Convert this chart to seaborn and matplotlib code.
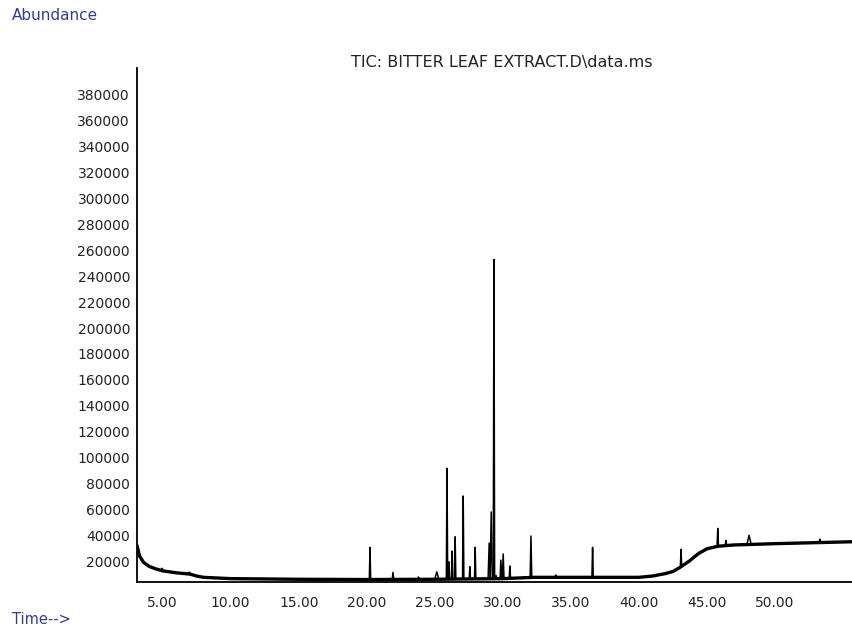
import numpy as np
import pandas as pd
import matplotlib
matplotlib.use("Agg")
import matplotlib.pyplot as plt
import seaborn as sns
from matplotlib.ticker import MultipleLocator, FixedLocator, FuncFormatter

# ---- data ----
# baseline knots (retention time in min, abundance)
base_time = [3.12, 3.3, 3.6, 4.0, 4.5, 5.0, 6.0, 7.0, 7.5, 8.0, 10.0, 15.0, 20.0,
             25.0, 30.0, 32.3, 33.0, 40.0, 41.0, 42.0, 42.5, 43.0, 43.7, 44.4,
             45.0, 45.8, 47.0, 50.0, 55.74]
base_abund = [32000, 24000, 19000, 16000, 14000, 12500, 11000, 10000, 8500, 7500,
              6500, 6000, 5800, 6000, 6500, 7500, 7500, 7500, 8500, 10500, 12000,
              15000, 20000, 26000, 29500, 31500, 32500, 33500, 35000]

# peaks: apex time, apex abundance, abundance at peak foot, half width (min)
peak_time = [4.95, 6.95, 20.24, 21.93, 23.8, 25.15, 25.9, 26.05, 26.28, 26.5,
             27.09, 27.58, 27.97, 29.0, 29.15, 29.35, 29.5, 29.86, 30.03, 30.52,
             32.07, 33.9, 36.6, 43.1, 45.8, 46.4, 48.1, 53.3]
peak_top = [14500, 11500, 30700, 11300, 7800, 11800, 91700, 19500, 27800, 38800,
            70300, 15700, 30650, 34000, 58000, 253000, 9000, 20800, 25500, 16200,
            39400, 9300, 30650, 29100, 45300, 36000, 40000, 37000]
peak_foot = [12500, 10000, 5800, 5800, 5900, 6000, 6000, 6000, 6000, 6000,
             6100, 6100, 6200, 6300, 6300, 6300, 6400, 6400, 6500, 6500,
             7000, 7500, 7500, 15700, 31700, 32300, 33200, 34500]
peak_hw = [0.12, 0.15, 0.05, 0.06, 0.1, 0.15, 0.05, 0.05, 0.05, 0.05,
           0.05, 0.05, 0.05, 0.08, 0.08, 0.05, 0.06, 0.06, 0.06, 0.05,
           0.06, 0.1, 0.05, 0.05, 0.05, 0.05, 0.15, 0.05]

y_ticks = list(range(20000, 400000, 20000))
x_ticks = [5, 10, 15, 20, 25, 30, 35, 40, 45, 50, 55]
x_labels = ["5.00", "10.00", "15.00", "20.00", "25.00", "30.00", "35.00",
            "40.00", "45.00", "50.00", ""]

title = "TIC: BITTER LEAF EXTRACT.D\\data.ms"

# ---- build tables ----
base_df = pd.DataFrame({"time": base_time, "abund": base_abund})
rows = []
for i, (t, top, foot, hw) in enumerate(zip(peak_time, peak_top, peak_foot, peak_hw)):
    rows.append({"pk": i, "time": t - hw, "abund": foot})
    rows.append({"pk": i, "time": t, "abund": top})
    rows.append({"pk": i, "time": t + hw, "abund": foot})
peak_df = pd.DataFrame(rows)

sns.set_style("white")
plt.rcParams["font.family"] = ["DejaVu Sans"]

W, H = 853, 629
fig = plt.figure(figsize=(W / 100, H / 100), dpi=100)
ax = fig.add_axes([137 / W, 1 - 582 / H, 1 - 137 / W, (582 - 68) / H])

sns.lineplot(data=base_df, x="time", y="abund", ax=ax, color="black",
             linewidth=2.4, estimator=None, sort=False)
sns.lineplot(data=peak_df, x="time", y="abund", units="pk", ax=ax,
             color="black", linewidth=1.1, estimator=None, sort=False)

ax.set_xlim(3.115, 55.74)
ax.set_ylim(3900, 400800)
ax.set_xlabel("")
ax.set_ylabel("")

for s in ["top", "right"]:
    ax.spines[s].set_visible(False)
for s in ["left", "bottom"]:
    ax.spines[s].set_color("black")
    ax.spines[s].set_linewidth(1.3)

ax.xaxis.set_major_locator(FixedLocator(x_ticks))
ax.set_xticklabels(x_labels)
ax.xaxis.set_minor_locator(MultipleLocator(1))
ax.yaxis.set_major_locator(FixedLocator(y_ticks))
ax.yaxis.set_major_formatter(FuncFormatter(lambda v, p: f"{int(v)}"))
ax.yaxis.set_minor_locator(MultipleLocator(2000))

ax.tick_params(axis="x", which="major", direction="out", length=6, width=1.2,
               colors="black", labelsize=10, pad=4, labelcolor="#222222")
ax.tick_params(axis="x", which="minor", direction="out", length=3.5, width=1.0,
               colors="black")
ax.tick_params(axis="y", which="major", direction="out", length=3, width=1.0,
               colors="black", labelsize=10, pad=2, labelcolor="#222222")
ax.tick_params(axis="y", which="minor", direction="out", length=1.5, width=0.6,
               colors="black")

fig.text(502 / W, 1 - 62 / H, title, ha="center", va="center", fontsize=11.5,
         color="#222222")
fig.text(12 / W, 1 - 16 / H, "Abundance", ha="left", va="center", fontsize=11,
         color="#343d8a")
fig.text(12 / W, 1 - 620 / H, "Time-->", ha="left", va="center", fontsize=10.5,
         color="#343d8a")

fig.savefig("out.png", dpi=100)
